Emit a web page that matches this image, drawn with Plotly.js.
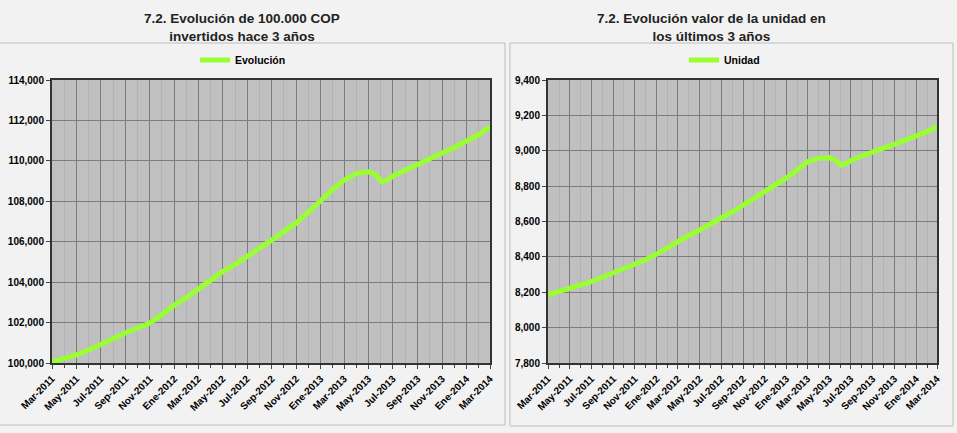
<!DOCTYPE html>
<html>
<head>
<meta charset="utf-8">
<script src="https://cdn.plot.ly/plotly-3.0.1.min.js"></script>
<style>html,body{margin:0;padding:0;background:#f2f2f2;}#chart{width:957px;height:433px;}</style>
</head>
<body>
<div id="chart"></div>
<script>
// Left chart: Evolución de 100.000 COP
const fechasEvol = ["2011-03-01","2011-04-01","2011-05-01","2011-06-01","2011-07-01","2011-08-01","2011-09-01","2011-10-01","2011-11-01","2011-12-01",
  "2012-01-01","2012-02-01","2012-03-01","2012-04-01","2012-05-01","2012-06-01","2012-07-01","2012-08-01","2012-09-01","2012-10-01","2012-11-01","2012-12-01",
  "2013-01-01","2013-02-01","2013-03-01","2013-04-01","2013-05-01","2013-05-18","2013-06-03","2013-06-18","2013-07-01","2013-08-01","2013-09-01","2013-10-01","2013-11-01","2013-12-01",
  "2014-01-01","2014-02-01","2014-03-01"];
const evolucion = [100050,100200,100400,100640,100890,101200,101500,101750,101980,102400,
  102870,103250,103660,104100,104520,104880,105260,105680,106080,106500,106930,107450,
  108060,108600,109050,109380,109460,109330,108960,109050,109250,109550,109850,110100,110390,110650,
  110950,111300,111680];

// Right chart: valor de la unidad
const fechasUnidad = ["2011-03-01","2011-04-01","2011-05-01","2011-06-01","2011-07-01","2011-08-01","2011-09-01","2011-10-01","2011-11-01","2011-12-01",
  "2012-01-01","2012-02-01","2012-03-01","2012-04-01","2012-05-01","2012-06-01","2012-07-01","2012-08-01","2012-09-01","2012-10-01","2012-11-01","2012-12-01",
  "2013-01-01","2013-02-01","2013-03-01","2013-04-01","2013-05-01","2013-05-18","2013-06-03","2013-06-18","2013-07-01","2013-08-01","2013-09-01","2013-10-01","2013-11-01","2013-12-01",
  "2014-01-01","2014-02-01","2014-03-01"];
const unidad = [8185,8203,8224,8242,8260,8285,8309,8331,8354,8384,
  8416,8452,8491,8522,8552,8585,8618,8655,8693,8730,8769,8805,
  8846,8893,8938,8957,8961,8948,8919,8928,8944,8970,8995,9015,9036,9058,
  9080,9108,9136];

// Tick labels
const tickFechas = ["2011-03-01","2011-05-01","2011-07-01","2011-09-01","2011-11-01","2012-01-01","2012-03-01","2012-05-01","2012-07-01","2012-09-01",
  "2012-11-01","2013-01-01","2013-03-01","2013-05-01","2013-07-01","2013-09-01","2013-11-01","2014-01-01","2014-03-01"];
const tickTextos = ["Mar-2011","May-2011","Jul-2011","Sep-2011","Nov-2011","Ene-2012","Mar-2012","May-2012","Jul-2012","Sep-2012",
  "Nov-2012","Ene-2013","Mar-2013","May-2013","Jul-2013","Sep-2013","Nov-2013","Ene-2014","Mar-2014"];

const W = 957, H = 433;
const px = v => v / W;
const py = v => (H - v) / H;
const FONT = "Liberation Sans";
const green = "#99ff33";

const traces = [
  {x: fechasEvol, y: evolucion, type: "scatter", mode: "lines", name: "<b>Evolución</b>",
   line: {color: green, width: 5}, xaxis: "x", yaxis: "y", legend: "legend"},
  {x: fechasUnidad, y: unidad, type: "scatter", mode: "lines", name: "<b>Unidad</b>",
   line: {color: green, width: 5}, xaxis: "x2", yaxis: "y2", legend: "legend2"}
];

function xax(domain, anchor) {
  return {
    domain: domain, anchor: anchor, type: "date",
    range: ["2011-03-01", "2014-03-01"],
    tickmode: "array", tickvals: tickFechas, ticktext: tickTextos,
    tickangle: -45, tickfont: {family: FONT, size: 10, color: "#000", weight: "bold"},
    ticks: "outside", ticklen: 4, tickcolor: "#444",
    showgrid: true, gridcolor: "#7c7c7c", gridwidth: 1,
    minor: {dtick: "M1", tick0: "2011-03-01", showgrid: true, gridcolor: "#b2b2b2", gridwidth: 1, ticks: "outside", ticklen: 3, tickcolor: "#444"},
    showline: true, linecolor: "#333", linewidth: 2, mirror: true,
    zeroline: false, automargin: false, fixedrange: true
  };
}
function yax(domain, anchor, range, dtick) {
  return {
    domain: domain, anchor: anchor, range: range, dtick: dtick, tick0: range[0],
    tickformat: ",d", tickfont: {family: FONT, size: 10, color: "#000", weight: "bold"},
    ticks: "outside", ticklen: 4, tickcolor: "#444",
    showgrid: true, gridcolor: "#7c7c7c", gridwidth: 1,
    showline: true, linecolor: "#333", linewidth: 2, mirror: true,
    zeroline: false, automargin: false, fixedrange: true
  };
}

const yDom = [py(363), py(80)];

const layout = {
  width: W, height: H,
  margin: {l: 0, r: 0, t: 0, b: 0},
  paper_bgcolor: "#f2f2f2",
  plot_bgcolor: "#c0c0c0",
  font: {family: FONT},
  showlegend: true,
  xaxis: xax([px(52), px(490)], "y"),
  yaxis: yax(yDom, "x", [100000, 114000], 2000),
  xaxis2: xax([px(548), px(937)], "y2"),
  yaxis2: yax(yDom, "x2", [7800, 9400], 200),
  legend: {x: px(195), y: py(60), xanchor: "left", yanchor: "middle", orientation: "h",
    bgcolor: "rgba(0,0,0,0)", font: {family: FONT, size: 10.5, color: "#000"}, itemwidth: 30},
  legend2: {x: px(684), y: py(60), xanchor: "left", yanchor: "middle", orientation: "h",
    bgcolor: "rgba(0,0,0,0)", font: {family: FONT, size: 10.5, color: "#000"}, itemwidth: 30},
  shapes: [
    {type: "rect", xref: "paper", yref: "paper", x0: px(-2), x1: px(505), y0: py(425), y1: py(43),
     line: {color: "#bdbdbd", width: 1}, fillcolor: "rgba(0,0,0,0)", layer: "below"},
    {type: "rect", xref: "paper", yref: "paper", x0: px(510), x1: px(953), y0: py(426), y1: py(43),
     line: {color: "#bdbdbd", width: 1}, fillcolor: "rgba(0,0,0,0)", layer: "below"}
  ],
  annotations: [
    {text: "<b>7.2. Evolución de 100.000 COP<br>invertidos hace 3 años</b>", xref: "paper", yref: "paper",
     x: px(242), y: py(28), xanchor: "center", yanchor: "middle", showarrow: false,
     font: {family: FONT, size: 13.5, color: "#222"}},
    {text: "<b>7.2. Evolución valor de la unidad en<br>los últimos 3 años</b>", xref: "paper", yref: "paper",
     x: px(711), y: py(28), xanchor: "center", yanchor: "middle", showarrow: false,
     font: {family: FONT, size: 13.5, color: "#222"}}
  ]
};

Plotly.newPlot("chart", traces, layout, {displayModeBar: false, staticPlot: true});
</script>
</body>
</html>
